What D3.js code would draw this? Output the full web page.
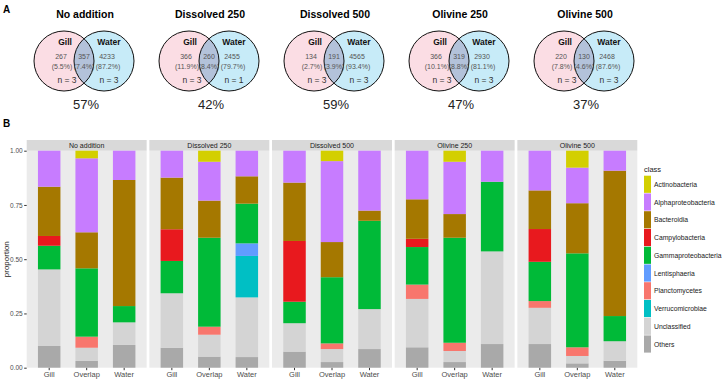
<!DOCTYPE html>
<html>
<head>
<meta charset="utf-8">
<script src="https://cdn.jsdelivr.net/npm/d3@7"></script>
<style>
  body { margin: 0; background: #fff; }
  svg { font-family: "Liberation Sans", Arial, sans-serif; }
</style>
</head>
<body>
<svg id="chart" width="722" height="380"></svg>
<script>
// treatments and sample fractions
var treatments = ["No addition", "Dissolved 250", "Dissolved 500", "Olivine 250", "Olivine 500"];
var fractions = ["Gill", "Overlap", "Water"];

// venn numbers (panel A)
var gillOnly = [267, 366, 134, 366, 220];
var gillPct = ["5.5%", "11.9%", "2.7%", "10.1%", "7.8%"];
var shared = [357, 260, 191, 319, 130];
var sharedPct = ["7.4%", "8.4%", "3.9%", "8.8%", "4.6%"];
var waterOnly = [4233, 2455, 4565, 2930, 2468];
var waterPct = ["87.2%", "79.7%", "93.4%", "81.1%", "87.6%"];
var gillN = [3, 3, 3, 3, 3];
var waterN = [3, 1, 3, 3, 3];
var sharedAbund = [57, 42, 59, 47, 37];

// class composition (panel B), order: treatment x fraction
var classes = ["Actinobacteria", "Alphaproteobacteria", "Bacteroidia", "Campylobacteria",
  "Gammaproteobacteria", "Lentisphaeria", "Planctomycetes", "Verrucomicrobiae", "Unclassified", "Others"];
var classColors = ["#d3cf00", "#c77cff", "#a57800", "#e8191e", "#00ba38",
  "#619cff", "#f8766d", "#00bfc4", "#d4d4d4", "#a9a9a9"];

var actinobacteria      = [0, 0.035, 0,     0, 0.051, 0,     0, 0.048, 0,     0, 0.051, 0,     0, 0.078, 0];
var alphaproteobacteria = [0.166, 0.341, 0.135, 0.124, 0.179, 0.118, 0.147, 0.373, 0.276, 0.224, 0.241, 0.143, 0.183, 0.164, 0.092];
var bacteroidia         = [0.227, 0.166, 0.581, 0.238, 0.171, 0.126, 0.269, 0.162, 0.047, 0.182, 0.109, 0,     0.178, 0.231, 0.670];
var campylobacteria     = [0.045, 0, 0,     0.146, 0, 0,     0.280, 0, 0,     0.038, 0, 0,     0.151, 0, 0];
var gammaproteobacteria = [0.109, 0.315, 0.075, 0.149, 0.410, 0.183, 0.099, 0.305, 0.407, 0.173, 0.484, 0.321, 0.181, 0.433, 0.116];
var lentisphaeria       = [0, 0, 0,     0, 0, 0.058, 0, 0, 0,     0, 0, 0,     0, 0, 0];
var planctomycetes      = [0, 0.051, 0, 0, 0.037, 0, 0, 0.026, 0, 0.066, 0.038, 0, 0.031, 0.040, 0];
var verrucomicrobiae    = [0, 0, 0,     0, 0, 0.191, 0, 0, 0,     0, 0, 0,     0, 0, 0];
var unclassified        = [0.353, 0.061, 0.104, 0.251, 0.101, 0.275, 0.131, 0.060, 0.184, 0.223, 0.051, 0.427, 0.167, 0.034, 0.090];
var others              = [0.100, 0.031, 0.105, 0.092, 0.051, 0.049, 0.074, 0.026, 0.086, 0.094, 0.026, 0.109, 0.109, 0.020, 0.032];

var yTicks = [0, 0.25, 0.5, 0.75, 1];

var series = [actinobacteria, alphaproteobacteria, bacteroidia, campylobacteria, gammaproteobacteria,
  lentisphaeria, planctomycetes, verrucomicrobiae, unclassified, others];

// build rows for the stack
var rows = [];
treatments.forEach(function(t, i){
    fractions.forEach(function(f, j){
        var row = {treatment: t, fraction: f};
        classes.forEach(function(c, k){ row[c] = series[k][i * 3 + j]; });
        rows.push(row);
    });
});

var svg = d3.select("#chart");
var color = d3.scaleOrdinal().domain(classes).range(classColors);

// ---------- panel A : venn diagrams ----------
svg.append("text").attr("x", 3).attr("y", 13)
    .style("font-weight", "bold").style("font-size", "10px").text("A");

var vennX = d3.scalePoint().domain(treatments).range([84, 584]);
var r = 30, off = 20, cy = 61;

var venn = svg.selectAll("g.venn").data(treatments).enter()
    .append("g").attr("class", "venn")
    .attr("transform", function(d){ return "translate(" + vennX(d) + ",0)"; });

venn.append("text").attr("x", 1).attr("y", 18).attr("text-anchor", "middle")
    .style("font-weight", "bold").style("font-size", "10.5px").text(function(d){ return d; });

// filled circles, then overlap via clip
venn.append("circle").attr("cx", -off).attr("cy", cy).attr("r", r).attr("fill", "#fbdde4");
venn.append("circle").attr("cx", off).attr("cy", cy).attr("r", r).attr("fill", "#c7ebf8");
venn.append("clipPath").attr("id", function(d, i){ return "clip" + i; })
    .append("circle").attr("cx", -off).attr("cy", cy).attr("r", r);
venn.append("circle").attr("cx", off).attr("cy", cy).attr("r", r)
    .attr("fill", "#b3c2da")
    .attr("clip-path", function(d, i){ return "url(#clip" + i + ")"; });
venn.append("circle").attr("cx", -off).attr("cy", cy).attr("r", r)
    .attr("fill", "none").attr("stroke", "#111").attr("stroke-width", 1);
venn.append("circle").attr("cx", off).attr("cy", cy).attr("r", r)
    .attr("fill", "none").attr("stroke", "#111").attr("stroke-width", 1);

function vText(x, y, size, fill, weight, fn){
    venn.append("text").attr("x", x).attr("y", y).attr("text-anchor", "middle")
        .style("font-size", size).style("fill", fill).style("font-weight", weight)
        .text(fn);
}
vText(-19, 45, "8.5px", "#111", "bold", function(){ return "Gill"; });
vText(25, 45, "8.5px", "#111", "bold", function(){ return "Water"; });
vText(-23, 59, "7px", "#555", "normal", function(d, i){ return gillOnly[i]; });
vText(0, 59, "7px", "#555", "normal", function(d, i){ return shared[i]; });
vText(23, 59, "7px", "#555", "normal", function(d, i){ return waterOnly[i]; });
vText(-22, 69, "7px", "#555", "normal", function(d, i){ return "(" + gillPct[i] + ")"; });
vText(0, 69, "7px", "#555", "normal", function(d, i){ return "(" + sharedPct[i] + ")"; });
vText(24, 69, "7px", "#555", "normal", function(d, i){ return "(" + waterPct[i] + ")"; });
vText(-17, 83, "8.5px", "#333", "normal", function(d, i){ return "n = " + gillN[i]; });
vText(25, 83, "8.5px", "#333", "normal", function(d, i){ return "n = " + waterN[i]; });

venn.append("text").attr("x", 2).attr("y", 109).attr("text-anchor", "middle")
    .style("font-size", "13px").style("fill", "#222")
    .text(function(d, i){ return sharedAbund[i] + "%"; });

// ---------- panel B : stacked bars ----------
svg.append("text").attr("x", 3).attr("y", 127)
    .style("font-weight", "bold").style("font-size", "10px").text("B");

var panelX = d3.scaleBand().domain(treatments).range([26.7, 637.3]).paddingInner(0.022);
var barX = d3.scaleBand().domain(fractions).range([0, panelX.bandwidth()])
    .paddingInner(0.4).paddingOuter(0.3);
var y = d3.scaleLinear().domain([0, 1]).range([367.7, 150.7]);

var stack = d3.stack().keys(classes.slice().reverse());
var stacked = stack(rows);

var panel = svg.selectAll("g.panel").data(treatments).enter()
    .append("g").attr("class", "panel")
    .attr("transform", function(d){ return "translate(" + panelX(d) + ",0)"; });

panel.append("rect").attr("x", 0).attr("y", y(1)).attr("width", panelX.bandwidth())
    .attr("height", y(0) - y(1)).attr("fill", "#ebebeb");
panel.append("rect").attr("x", 0).attr("y", 140).attr("width", panelX.bandwidth())
    .attr("height", y(1) - 140).attr("fill", "#d9d9d9");
panel.append("text").attr("x", panelX.bandwidth() / 2).attr("y", 148)
    .attr("text-anchor", "middle").style("font-size", "7px").style("fill", "#1a1a1a")
    .text(function(d){ return d; });

// bars
stacked.forEach(function(layer){
    svg.append("g").selectAll("rect").data(layer.filter(function(s){ return s[1] - s[0] > 0; }))
        .enter().append("rect")
        .attr("x", function(s){ return panelX(s.data.treatment) + barX(s.data.fraction); })
        .attr("width", barX.bandwidth())
        .attr("y", function(s){ return y(s[1]); })
        .attr("height", function(s){ return y(s[0]) - y(s[1]); })
        .attr("fill", color(layer.key));
});

// x axes per panel
panel.each(function(){
    var g = d3.select(this).append("g").attr("transform", "translate(0," + y(0) + ")")
        .call(d3.axisBottom(barX).tickSize(2.5).tickPadding(1.5));
    g.select(".domain").remove();
    g.selectAll("line").attr("stroke", "#333");
    g.selectAll("text").attr("fill", "#4d4d4d").style("font-size", "7.5px")
        .style("font-family", "Liberation Sans, Arial, sans-serif");
});

// y axis
var yAxis = svg.append("g").attr("transform", "translate(26.7,0)")
    .call(d3.axisLeft(y).tickValues(yTicks).tickFormat(d3.format(".2f")).tickSize(2.5).tickPadding(1.5));
yAxis.select(".domain").remove();
yAxis.selectAll("line").attr("stroke", "#333");
yAxis.selectAll("text").attr("fill", "#4d4d4d").style("font-size", "6.5px")
    .style("font-family", "Liberation Sans, Arial, sans-serif");

svg.append("text").attr("transform", "translate(9," + ((y(0) + y(1)) / 2) + ") rotate(-90)")
    .attr("text-anchor", "middle").style("font-size", "8px").style("fill", "#1a1a1a")
    .text("proportion");

// legend
var legend = svg.append("g").attr("transform", "translate(644,0)");
legend.append("text").attr("x", 0).attr("y", 172).style("font-size", "7.5px").style("fill", "#1a1a1a").text("class");
var keyH = 17.75;
var item = legend.selectAll("g.key").data(classes).enter().append("g")
    .attr("transform", function(d, i){ return "translate(0," + (175.7 + i * keyH) + ")"; });
item.append("rect").attr("width", 7).attr("height", keyH - 0.6).attr("fill", function(d){ return color(d); });
item.append("text").attr("x", 10).attr("y", keyH / 2 + 2.3)
    .style("font-size", "6.8px").style("fill", "#1a1a1a").text(function(d){ return d; });
</script>
</body>
</html>
